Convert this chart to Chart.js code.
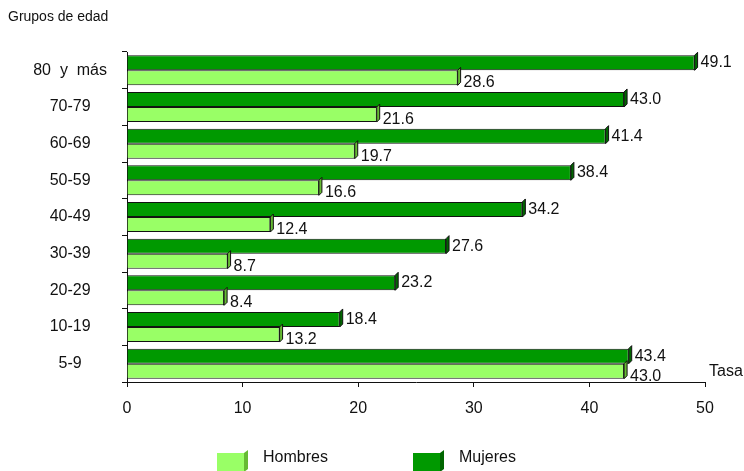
<!DOCTYPE html>
<html>
<head>
<meta charset="utf-8">
<script src="https://cdn.jsdelivr.net/npm/chart.js@4/dist/chart.umd.min.js"></script>
<style>
  html, body { margin: 0; padding: 0; background: #fff; }
  #wrap { width: 744px; height: 471px; position: relative; }
</style>
</head>
<body>
<div id="wrap"><canvas id="chart" width="744" height="471"></canvas></div>
<script>
// age groups, top to bottom
const groups = ['80  y  más', '70-79', '60-69', '50-59', '40-49', '30-39', '20-29', '10-19', '5-9'];
const mujeres = [49.1, 43.0, 41.4, 38.4, 34.2, 27.6, 23.2, 18.4, 43.4];
const hombres = [28.6, 21.6, 19.7, 16.6, 12.4, 8.7, 8.4, 13.2, 43.0];
const xTicks = [0, 10, 20, 30, 40, 50];

const FONT = '"Liberation Sans", Arial, sans-serif';
const DARK = '#009900', DARK_SIDE = '#006600';
const LIGHT = '#99FF66', LIGHT_SIDE = '#66BB33';

// side face drawn at the end of each bar, plus value labels, captions and legend
const extras = {
    id: 'extras',
    afterDatasetsDraw(chart) {
        const ctx = chart.ctx;
        const d = 3;
        ctx.save();
        chart.data.datasets.forEach(function (ds, i) {
            const meta = chart.getDatasetMeta(i);
            meta.data.forEach(function (bar, j) {
                const top = bar.y - bar.height / 2;
                const bottom = bar.y + bar.height / 2;
                ctx.beginPath();
                ctx.moveTo(bar.x, top);
                ctx.lineTo(bar.x + d, top - d);
                ctx.lineTo(bar.x + d, bottom - d);
                ctx.lineTo(bar.x, bottom);
                ctx.closePath();
                ctx.fillStyle = ds.sideColor;
                ctx.fill();
                ctx.strokeStyle = '#111';
                ctx.lineWidth = 1;
                ctx.stroke();

                ctx.fillStyle = '#111';
                ctx.font = '16px ' + FONT;
                ctx.textAlign = 'left';
                ctx.textBaseline = 'middle';
                const dy = ds.label === 'Hombres' ? 5 : 0;
                ctx.fillText(ds.data[j].toFixed(1), bar.x + d + 3, bar.y + dy);
            });
        });
        ctx.restore();
    },
    afterDraw(chart) {
        const ctx = chart.ctx;
        ctx.save();
        ctx.fillStyle = '#111';
        ctx.font = '14px ' + FONT;
        ctx.textBaseline = 'middle';
        ctx.textAlign = 'left';
        ctx.fillText('Grupos de edad', 8, 17);
        ctx.font = '16px ' + FONT;
        ctx.fillText('Tasa', chart.chartArea.right + 4, 372);

        // legend
        const items = [
            { label: 'Hombres', color: LIGHT, side: LIGHT_SIDE, x: 217 },
            { label: 'Mujeres', color: DARK, side: DARK_SIDE, x: 413 },
        ];
        items.forEach(function (it) {
            const y = 453, w = 27, h = 19, d = 4;
            ctx.fillStyle = it.color;
            ctx.fillRect(it.x, y, w, h);
            ctx.beginPath();
            ctx.moveTo(it.x + w, y);
            ctx.lineTo(it.x + w + d, y - 3);
            ctx.lineTo(it.x + w + d, y + h - 3);
            ctx.lineTo(it.x + w, y + h);
            ctx.closePath();
            ctx.fillStyle = it.side;
            ctx.fill();
            ctx.fillStyle = '#111';
            ctx.font = '16px ' + FONT;
            ctx.fillText(it.label, it.x + 46, 458);
        });
        ctx.restore();
    },
};

new Chart(document.getElementById('chart'), {
    type: 'bar',
    data: {
        labels: groups,
        datasets: [
            { label: 'Mujeres', data: mujeres, backgroundColor: DARK, sideColor: DARK_SIDE,
              borderColor: '#111', borderWidth: 1 },
            { label: 'Hombres', data: hombres, backgroundColor: LIGHT, sideColor: LIGHT_SIDE,
              borderColor: '#111', borderWidth: 1 },
        ],
    },
    options: {
        indexAxis: 'y',
        responsive: false,
        animation: false,
        maintainAspectRatio: false,
        categoryPercentage: 0.82,
        barPercentage: 1,
        layout: { padding: { top: 52, right: 39, bottom: 49, left: 0 } },
        plugins: {
            legend: { display: false },
            tooltip: { enabled: false },
        },
        scales: {
            x: {
                min: 0,
                max: 50,
                afterBuildTicks: function (scale) {
                    scale.ticks = xTicks.map(function (v) { return { value: v }; });
                },
                afterFit: function (scale) { scale.height = 40; },
                border: { display: true, color: '#111', width: 1 },
                grid: { drawOnChartArea: false, tickLength: 5, color: '#111' },
                ticks: { color: '#111', padding: 12, font: { family: FONT, size: 16 } },
            },
            y: {
                afterFit: function (scale) { scale.width = 127; },
                border: { display: true, color: '#111', width: 1 },
                grid: { drawOnChartArea: false, tickLength: 5, color: '#111', offset: true },
                ticks: { color: '#111', padding: 15, crossAlign: 'center',
                         font: { family: FONT, size: 16 } },
            },
        },
    },
    plugins: [extras],
});
</script>
</body>
</html>
